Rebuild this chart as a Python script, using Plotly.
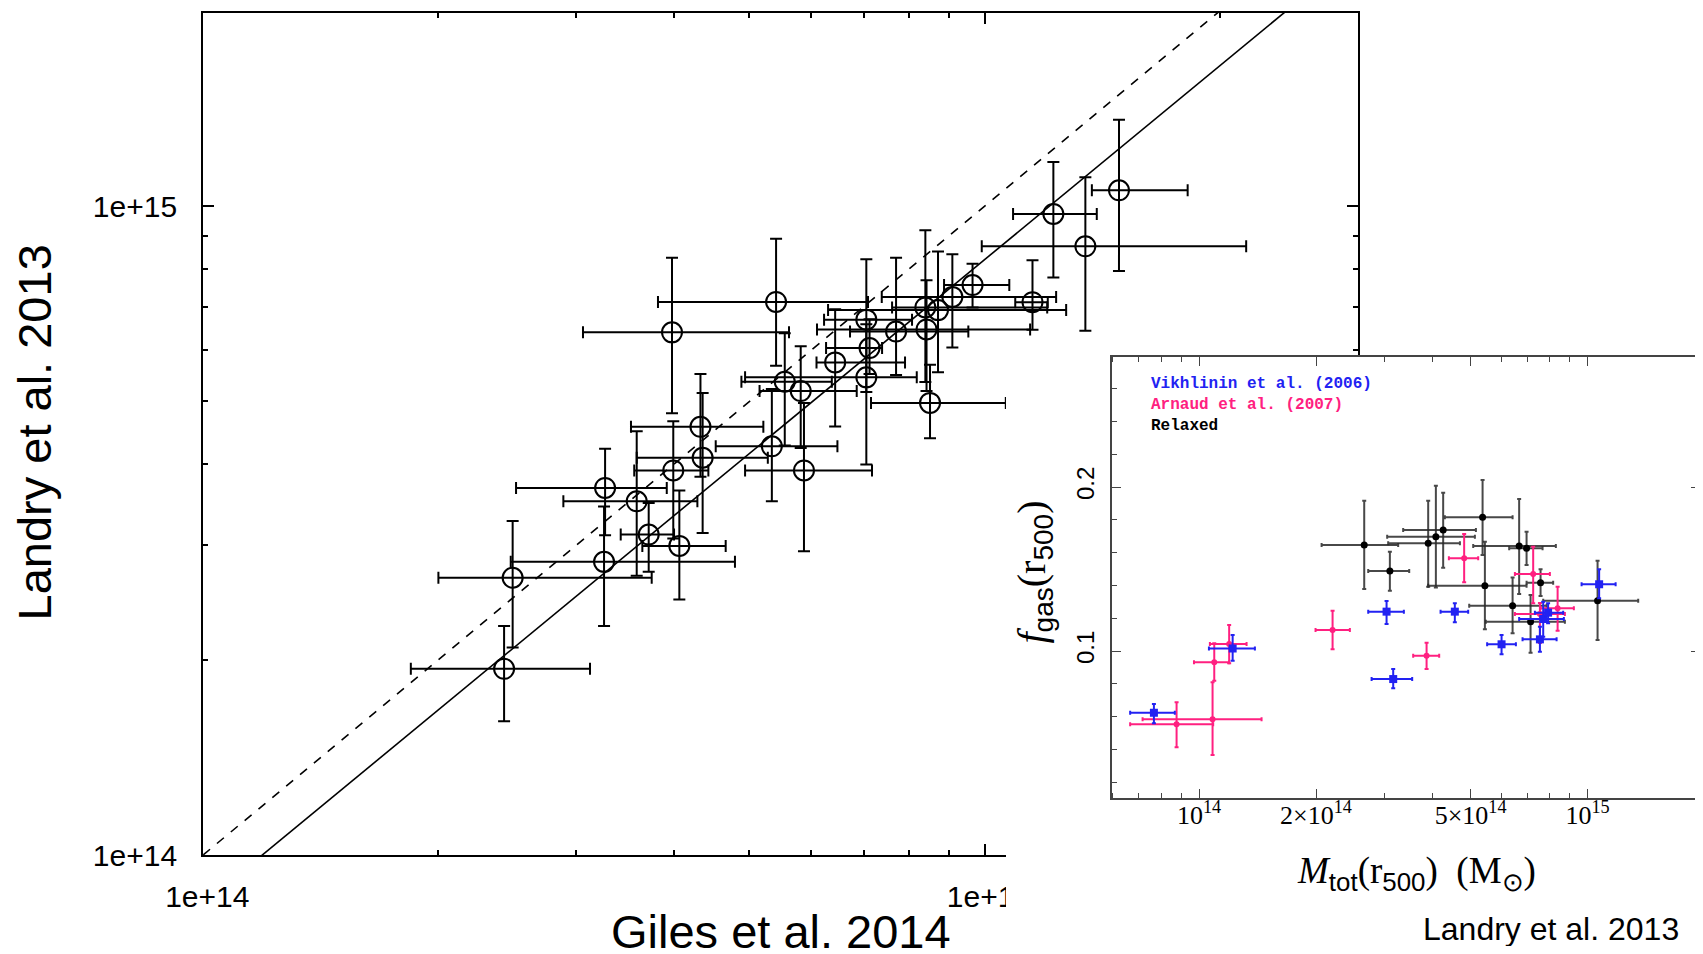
import plotly.graph_objects as go

# ---------------- Main panel: Giles et al. 2014 (x) vs Landry et al. 2013 (y) ----------------
# masses in units of 1e14 Msun: centre, lower bound, upper bound
giles_c = [2.427, 2.489, 3.268, 3.258, 3.587, 3.716, 4.067, 3.995, 4.328, 4.356,
           3.980, 5.408, 5.341, 5.871, 5.548, 5.815, 6.436, 7.055, 7.055, 7.122,
           7.701, 8.424, 8.395, 8.511, 8.714, 9.090, 9.647, 11.51, 12.24, 13.45, 14.85]
giles_lo = [1.844, 2.000, 2.514, 2.475, 2.890, 3.422, 3.647, 3.561, 3.527, 3.587,
            3.062, 3.819, 4.527, 4.936, 4.883, 5.151, 6.092, 6.229, 4.936, 6.266,
            6.724, 6.101, 7.611, 7.153, 6.303, 7.383, 8.870, 10.94, 10.87, 9.912, 13.71]
giles_hi = [3.126, 3.749, 3.919, 4.791, 4.289, 4.004, 4.662, 4.430, 5.209, 5.278,
            5.618, 7.090, 6.479, 7.174, 6.373, 6.858, 7.907, 8.072, 8.185, 7.390,
            9.528, 11.43, 12.02, 10.64, 12.71, 12.34, 10.75, 12.04, 13.91, 21.60, 18.18]
landry_c = [1.936, 2.675, 3.679, 2.830, 3.508, 3.118, 2.995, 3.914, 4.570, 4.095,
            6.390, 7.118, 4.265, 3.914, 5.363, 5.189, 5.744, 6.685, 5.447, 6.043,
            6.408, 6.457, 6.980, 4.975, 6.915, 7.247, 7.558, 7.112, 9.728, 8.671, 10.58]
landry_lo = [1.607, 2.088, 3.110, 2.254, 2.694, 2.733, 2.477, 3.074, 3.828, 3.136,
             4.797, 5.676, 3.508, 2.939, 4.276, 4.239, 4.575, 5.171, 3.999, 5.512,
             5.493, 5.189, 5.358, 4.390, 5.545, 6.058, 6.980, 6.448, 7.762, 6.426, 7.945]
landry_hi = [2.254, 3.273, 4.227, 3.445, 4.500, 3.487, 3.647, 4.662, 5.512, 5.153,
             8.330, 8.910, 5.226, 4.975, 6.368, 6.085, 6.937, 8.280, 6.578, 6.697,
             8.330, 7.688, 9.178, 5.695, 8.511, 8.431, 8.154, 8.253, 11.70, 11.08, 13.59]
UNIT = 1e14
fit_norm = 0.841     # Landry = fit_norm * Giles^fit_slope (in 1e14 units)
fit_slope = 0.993
line_x = [1.0, 30.0]

main_ticks = [1e14, 1e15]
main_ticktext = ["1e+14", "1e+15"]
main_minor = [2e14, 3e14, 4e14, 5e14, 6e14, 7e14, 8e14, 9e14, 2e15, 3e15]

# ---------------- Inset: Landry et al. 2013 f_gas vs M_tot ----------------
vik_m = [0.765, 1.220, 3.038, 3.160, 4.553, 6.006, 7.539, 7.688, 7.914, 10.71]
vik_m_lo = [0.6645, 1.060, 2.725, 2.780, 4.184, 5.514, 6.802, 6.666, 7.318, 9.651]
vik_m_hi = [0.866, 1.392, 3.366, 3.536, 4.928, 6.539, 8.323, 8.690, 8.654, 11.81]
vik_f = [0.0624, 0.1016, 0.1240, 0.0829, 0.1240, 0.1041, 0.1071, 0.1195, 0.1234, 0.1407]
vik_f_lo = [0.0559, 0.0941, 0.1165, 0.0773, 0.1175, 0.0980, 0.0996, 0.1087, 0.1169, 0.1321]
vik_f_hi = [0.0677, 0.1098, 0.1305, 0.0890, 0.1291, 0.1098, 0.1148, 0.1301, 0.1291, 0.1498]

arn_m = [0.875, 1.083, 1.094, 1.195, 2.206, 3.851, 4.812, 7.244, 7.539, 8.373]
arn_m_lo = [0.6645, 0.7153, 0.970, 1.066, 1.994, 3.557, 4.395, 6.500, 6.500, 7.568]
arn_m_hi = [1.087, 1.448, 1.195, 1.325, 2.444, 4.150, 5.229, 7.998, 8.742, 9.220]
arn_f = [0.0553, 0.0584, 0.0931, 0.1043, 0.1128, 0.0971, 0.1565, 0.1470, 0.1226, 0.1260]
arn_f_lo = [0.0413, 0.0366, 0.0819, 0.0925, 0.1010, 0.0890, 0.1419, 0.1291, 0.1049, 0.1124]
arn_f_hi = [0.0687, 0.0809, 0.1047, 0.1159, 0.1246, 0.1051, 0.1713, 0.1636, 0.1293, 0.1392]

rel_m = [2.661, 3.098, 3.888, 4.069, 4.249, 5.367, 5.441, 6.666, 6.966, 7.568, 6.412, 7.133, 10.61]
rel_m_lo = [2.067, 2.725, 3.067, 3.049, 3.352, 4.292, 3.888, 5.077, 6.284, 6.966, 4.958, 5.473, 7.688]
rel_m_hi = [3.254, 3.474, 4.692, 5.128, 5.159, 6.412, 6.966, 8.286, 7.659, 8.155, 7.843, 8.742, 13.50]
rel_f = [0.1646, 0.1488, 0.1657, 0.1697, 0.1738, 0.1815, 0.1398, 0.1640, 0.1626, 0.1416, 0.1276, 0.1179, 0.1307]
rel_f_lo = [0.1378, 0.1368, 0.1392, 0.1388, 0.1508, 0.1585, 0.1132, 0.1348, 0.1524, 0.1335, 0.1108, 0.0990, 0.1067]
rel_f_hi = [0.1916, 0.1605, 0.1916, 0.2008, 0.1965, 0.2043, 0.1666, 0.1927, 0.1727, 0.1498, 0.1449, 0.1341, 0.1551]

inset_xticks = [1e14, 2e14, 5e14, 1e15]
inset_xticktext = ["10<sup>14</sup>", "2×10<sup>14</sup>", "5×10<sup>14</sup>", "10<sup>15</sup>"]
inset_xminor = [6e13, 7e13, 8e13, 9e13, 3e14, 4e14, 6e14, 7e14, 8e14, 9e14]
inset_yticks = [0.1, 0.2]
inset_yticktext = ["0.1", "0.2"]
inset_yminor = [0.02, 0.04, 0.06, 0.08, 0.12, 0.14, 0.16, 0.18, 0.22, 0.24, 0.26]

legend_labels = ["Vikhlinin et al. (2006)", "Arnaud et al. (2007)", "Relaxed"]
BLUE = "#2222f2"
PINK = "#ff2080"
BLACK = "#000000"

# page body has an 8px default margin: size the figure so it ends at the window edge
OFF = 8
W, H = 1703 - OFF, 954 - OFF


def px(v):  # window pixel -> paper fraction
    return (v - OFF) / W


def py(v):
    return 1 - (v - OFF) / H


def scaled(a, f=1.0):
    return [v * f for v in a]


def errs(c, lo, hi, f=1.0):
    return [(h - m) * f for m, h in zip(c, hi)], [(m - l) * f for m, l in zip(c, lo)]


fig = go.Figure()

# ----- main panel traces -----
fig.add_trace(go.Scatter(
    x=scaled(line_x, UNIT), y=scaled(line_x, UNIT), mode="lines",
    line=dict(color="black", width=1.6, dash="dash"), xaxis="x", yaxis="y",
    showlegend=False, hoverinfo="skip"))
fit_y = [fit_norm * v ** fit_slope for v in line_x]
fig.add_trace(go.Scatter(
    x=scaled(line_x, UNIT), y=scaled(fit_y, UNIT), mode="lines",
    line=dict(color="black", width=1.6), xaxis="x", yaxis="y",
    showlegend=False, hoverinfo="skip"))
ex_p, ex_m = errs(giles_c, giles_lo, giles_hi, UNIT)
ey_p, ey_m = errs(landry_c, landry_lo, landry_hi, UNIT)
fig.add_trace(go.Scatter(
    x=scaled(giles_c, UNIT), y=scaled(landry_c, UNIT), mode="markers",
    marker=dict(symbol="circle-open", size=20, color="black", line=dict(width=2, color="black")),
    error_x=dict(type="data", symmetric=False, array=ex_p, arrayminus=ex_m,
                 color="black", thickness=2, width=6),
    error_y=dict(type="data", symmetric=False, array=ey_p, arrayminus=ey_m,
                 color="black", thickness=2, width=6),
    xaxis="x", yaxis="y", showlegend=False))

# ----- white cover for the pasted inset -----
fig.add_trace(go.Scatter(
    x=[0, 1, 1, 0, 0], y=[0, 0, 1, 1, 0], mode="lines", fill="toself",
    fillcolor="white", line=dict(width=0, color="white"),
    xaxis="x2", yaxis="y2", showlegend=False, hoverinfo="skip"))

# ----- inset traces -----
def inset_trace(m, mlo, mhi, f, flo, fhi, color, symbol, size, ecolor, thick):
    mp, mm = errs(m, mlo, mhi, UNIT)
    fp, fm = errs(f, flo, fhi)
    return go.Scatter(
        x=scaled(m, UNIT), y=f, mode="markers",
        marker=dict(symbol=symbol, size=size, color=color),
        error_x=dict(type="data", symmetric=False, array=mp, arrayminus=mm,
                     color=ecolor, thickness=thick, width=2),
        error_y=dict(type="data", symmetric=False, array=fp, arrayminus=fm,
                     color=ecolor, thickness=thick, width=2),
        xaxis="x3", yaxis="y3", showlegend=False)


fig.add_trace(inset_trace(rel_m, rel_m_lo, rel_m_hi, rel_f, rel_f_lo, rel_f_hi,
                          BLACK, "circle", 7, "rgba(40,40,40,0.85)", 2))
fig.add_trace(inset_trace(arn_m, arn_m_lo, arn_m_hi, arn_f, arn_f_lo, arn_f_hi,
                          PINK, "circle", 6, PINK, 2))
fig.add_trace(inset_trace(vik_m, vik_m_lo, vik_m_hi, vik_f, vik_f_lo, vik_f_hi,
                          BLUE, "square", 8, BLUE, 2))

main_font = dict(family="Liberation Sans, Arial, sans-serif", size=30, color="black")
axis_common = dict(showgrid=False, zeroline=False, showline=True, linecolor="black",
                   linewidth=2, mirror="ticks", ticks="inside", tickcolor="black",
                   tickwidth=1.5, tickfont=main_font, automargin=False)

inset_axis = dict(showgrid=False, zeroline=False, showline=True, linecolor="#444444",
                  linewidth=1.5, mirror="ticks", ticks="inside", tickcolor="#444444",
                  tickwidth=1.3, automargin=False)

fig.update_layout(
    template="none",
    width=W, height=H, margin=dict(l=0, r=0, t=0, b=0, pad=0, autoexpand=False),
    paper_bgcolor="white", plot_bgcolor="white", showlegend=False,
    xaxis=dict(type="log", range=[14, 15.477], domain=[px(203.1), px(1357.6)], anchor="y",
               tickmode="array", tickvals=main_ticks,
               ticktext=["\u00a0" + t for t in main_ticktext], ticklen=11,
               ticklabelstandoff=14,
               minor=dict(tickmode="array", tickvals=main_minor, ticks="inside", ticklen=5,
                          tickcolor="black", tickwidth=1.5, showgrid=False),
               **axis_common),
    yaxis=dict(type="log", range=[14, 15.2977], domain=[py(855), py(13)], anchor="x",
               tickmode="array", tickvals=main_ticks, ticktext=main_ticktext, ticklen=11,
               ticklabelstandoff=18,
               minor=dict(tickmode="array", tickvals=main_minor, ticks="inside", ticklen=5,
                          tickcolor="black", tickwidth=1.5, showgrid=False),
               **axis_common),
    xaxis2=dict(domain=[px(1006), 1.0], range=[0, 1], visible=False, anchor="y2",
                fixedrange=True, automargin=False),
    yaxis2=dict(domain=[0.0, py(355)], range=[0, 1], visible=False, anchor="x2",
                fixedrange=True, automargin=False),
    xaxis3=dict(type="log", range=[13.775, 15.292], domain=[px(1111.7), px(1701)], anchor="y3",
                tickmode="array", tickvals=inset_xticks, ticktext=inset_xticktext, ticklen=9,
                ticklabelstandoff=-7,
                tickfont=dict(family="Liberation Serif, serif", size=26, color="black"),
                minor=dict(tickmode="array", tickvals=inset_xminor, ticks="inside", ticklen=5,
                           tickcolor="#444444", tickwidth=1.3, showgrid=False),
                **inset_axis),
    yaxis3=dict(type="linear", range=[0.01055, 0.2791], domain=[py(797.7), py(357.3)], anchor="x3",
                tickmode="array", tickvals=inset_yticks, ticktext=inset_yticktext, ticklen=10,
                tickangle=-90, ticklabelstandoff=6,
                tickfont=dict(family="Liberation Sans, Arial, sans-serif", size=24, color="black"),
                minor=dict(tickmode="array", tickvals=inset_yminor, ticks="inside", ticklen=6,
                           tickcolor="#444444", tickwidth=1.3, showgrid=False),
                **inset_axis),
)

annotations = [
    dict(text="Giles et al. 2014", x=px(780.8), y=py(931), xanchor="center", yanchor="middle",
         height=40, valign="middle",
         font=dict(family="Liberation Sans, Arial, sans-serif", size=47, color="black")),
    dict(text="Landry et al. 2013", x=px(34), y=py(432.5), xanchor="center", yanchor="middle",
         textangle=-90,
         font=dict(family="Liberation Sans, Arial, sans-serif", size=47, color="black")),
    dict(text="Landry et al. 2013", x=px(1550.5), y=py(929), xanchor="center", yanchor="middle",
         height=34, valign="middle",
         font=dict(family="Liberation Sans, Arial, sans-serif", size=32, color="black")),
    dict(text="<i>M</i><sub><span style='font-family:Liberation Sans'>tot</span></sub>(r"
              "<sub><span style='font-family:Liberation Sans'>500</span></sub>)  (M<sub>⊙</sub>)",
         x=px(1416.5), y=py(873), xanchor="center", yanchor="middle",
         font=dict(family="Liberation Serif, serif", size=37, color="black")),
    dict(text="<i>f</i><sub><span style='font-family:Liberation Sans'>gas</span></sub>(r"
              "<sub><span style='font-family:Liberation Sans'>500</span></sub>)",
         x=px(1033), y=py(572.5), xanchor="center", yanchor="middle", textangle=-90,
         font=dict(family="Liberation Serif, serif", size=40, color="black")),
]
for lab, col, yc in zip(legend_labels, [BLUE, PINK, BLACK], [384, 405, 426]):
    annotations.append(dict(text="<b>" + lab + "</b>", x=px(1149), y=py(yc), xanchor="left",
                            yanchor="middle",
                            font=dict(family="Liberation Mono, monospace", size=16, color=col)))
for a in annotations:
    a.update(xref="paper", yref="paper", showarrow=False)
fig.update_layout(annotations=annotations)

fig.write_html("out.html")
